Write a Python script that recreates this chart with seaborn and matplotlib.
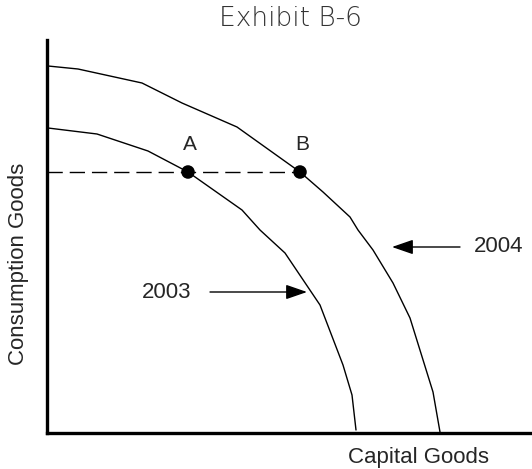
import matplotlib
matplotlib.use("Agg")
import matplotlib.pyplot as plt
import seaborn as sns
import pandas as pd

# curve points (arbitrary units, origin at the axes corner)
cap_2004 = [1, 31, 95, 135, 190, 253, 276, 303, 311, 326, 346, 363, 386, 393]
con_2004 = [367, 364, 350, 330, 306, 261, 241, 216, 203, 183, 150, 115, 41, 1]
cap_2003 = [1, 50, 101, 141, 195, 213, 238, 273, 296, 305, 309]
con_2003 = [305, 299, 282, 261, 223, 203, 180, 128, 68, 38, 3]
point_names = ["A", "B"]
point_cap = [141, 253]
point_con = [261, 261]

df = pd.concat([
    pd.DataFrame({"cap": cap_2004, "con": con_2004, "year": "2004"}),
    pd.DataFrame({"cap": cap_2003, "con": con_2003, "year": "2003"}),
])
pts = pd.DataFrame({"cap": point_cap, "con": point_con, "name": point_names})

sns.set_style("white")
plt.rcParams["font.family"] = ["Liberation Sans", "DejaVu Sans"]

fig = plt.figure(figsize=(5.32, 4.69), dpi=100)
ax = fig.add_axes([47 / 532, 36 / 469, 485 / 532, 393 / 469])

sns.lineplot(data=df, x="cap", y="con", units="year", estimator=None, sort=False,
             color="black", linewidth=1.0, ax=ax)

# dashed line to B
ax.plot([0, pts["cap"].max()], [pts["con"].iloc[0]] * 2, color="black",
        linewidth=1.0, linestyle=(0, (11, 5)))
sns.scatterplot(data=pts, x="cap", y="con", color="black", s=95, edgecolor="none",
                ax=ax, zorder=5)
for _, r in pts.iterrows():
    ax.text(r["cap"] + 2, r["con"] + 27, r["name"], ha="center", va="center", fontsize=15)

# year labels with arrows
arrow = dict(arrowstyle="-|>,head_length=1.3,head_width=0.45",
             color="black", lw=1.0, shrinkA=0, shrinkB=0)
ax.annotate("", xy=(345, 186), xytext=(413, 186), arrowprops=arrow)
ax.text(452, 186, "2004", ha="center", va="center", fontsize=16)
ax.annotate("", xy=(260, 141), xytext=(163, 141), arrowprops=arrow)
ax.text(120, 141, "2003", ha="center", va="center", fontsize=16)

ax.set_xlim(0, 485)
ax.set_ylim(0, 393)
ax.set_xticks([])
ax.set_yticks([])
ax.set_xlabel("")
ax.set_ylabel("")
for s in ["top", "right"]:
    ax.spines[s].set_visible(False)
for s in ["left", "bottom"]:
    ax.spines[s].set_linewidth(2.4)
    ax.spines[s].set_color("black")

fig.text(19 / 532, 1 - 264 / 469, "Consumption Goods", rotation=90, ha="center",
         va="center", fontsize=16)
fig.text(418 / 532, 1 - 457 / 469, "Capital Goods", ha="center", va="center", fontsize=16)
fig.text(290 / 532, 1 - 19 / 469, "Exhibit B-6", ha="center", va="center", fontsize=19,
         color="#333333", family=["DejaVu Sans"], fontweight="light")

fig.savefig("out.png", dpi=100)
